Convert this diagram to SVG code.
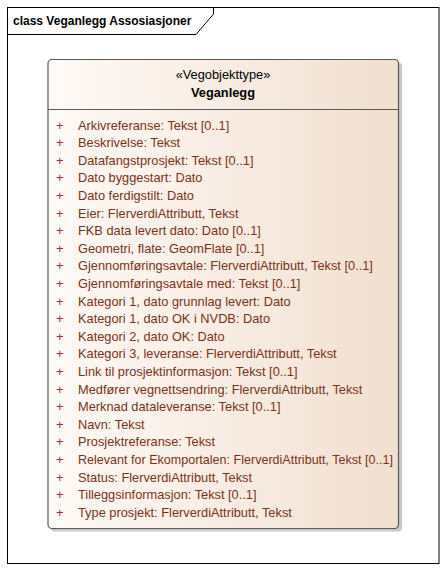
<svg xmlns="http://www.w3.org/2000/svg" width="448" height="573" viewBox="0 0 448 573">
<style>
  .t{font-family:"Liberation Sans",Arial,sans-serif;font-size:12px}
  .b{font-size:12.8px}
  .a{fill:#7a3218}
  .p{fill:#a8282b}
</style>
<defs>
  <linearGradient id="g" x1="0" y1="0" x2="1" y2="0">
    <stop offset="0" stop-color="#fefaf7"/>
    <stop offset="1" stop-color="#f1dfcf"/>
  </linearGradient>
</defs>
<rect x="0" y="0" width="448" height="573" fill="#ffffff"/>
<g id="frame">
  <rect x="7.5" y="7.5" width="431.5" height="556" fill="none" stroke="#000" stroke-width="1"/>
  <path d="M7.5 34.5 H196 L213.5 14 V7.5" fill="none" stroke="#000" stroke-width="1"/>
  <text x="13" y="24.5" class="t" font-weight="bold" fill="#000">class Veganlegg Assosiasjoner</text>
</g>
<g id="connectors"></g>
<g id="Veganlegg">
  <rect x="51" y="62.5" width="351" height="469" rx="4" fill="#c8c8c8"/>
  <rect x="48" y="59.5" width="350.5" height="469" rx="4" fill="url(#g)" stroke="#5a5a5a" stroke-width="1.2"/>
  <line x1="48" y1="109.5" x2="398.5" y2="109.5" stroke="#5a5a5a" stroke-width="1"/>
  <text x="223" y="79" class="t b" text-anchor="middle" fill="#000">«Vegobjekttype»</text>
  <text x="223" y="97" class="t b" text-anchor="middle" font-weight="bold" fill="#000">Veganlegg</text>
  <g class="t b">
    <text class="p" x="56" y="129.5">+</text><text class="a" x="78" y="129.5">Arkivreferanse: Tekst [0..1]</text>
    <text class="p" x="56" y="147.1">+</text><text class="a" x="78" y="147.1">Beskrivelse: Tekst</text>
    <text class="p" x="56" y="164.7">+</text><text class="a" x="78" y="164.7">Datafangstprosjekt: Tekst [0..1]</text>
    <text class="p" x="56" y="182.3">+</text><text class="a" x="78" y="182.3">Dato byggestart: Dato</text>
    <text class="p" x="56" y="199.9">+</text><text class="a" x="78" y="199.9">Dato ferdigstilt: Dato</text>
    <text class="p" x="56" y="217.5">+</text><text class="a" x="78" y="217.5">Eier: FlerverdiAttributt, Tekst</text>
    <text class="p" x="56" y="235.1">+</text><text class="a" x="78" y="235.1">FKB data levert dato: Dato [0..1]</text>
    <text class="p" x="56" y="252.7">+</text><text class="a" x="78" y="252.7">Geometri, flate: GeomFlate [0..1]</text>
    <text class="p" x="56" y="270.3">+</text><text class="a" x="78" y="270.3">Gjennomføringsavtale: FlerverdiAttributt, Tekst [0..1]</text>
    <text class="p" x="56" y="287.9">+</text><text class="a" x="78" y="287.9">Gjennomføringsavtale med: Tekst [0..1]</text>
    <text class="p" x="56" y="305.5">+</text><text class="a" x="78" y="305.5">Kategori 1, dato grunnlag levert: Dato</text>
    <text class="p" x="56" y="323.1">+</text><text class="a" x="78" y="323.1">Kategori 1, dato OK i NVDB: Dato</text>
    <text class="p" x="56" y="340.7">+</text><text class="a" x="78" y="340.7">Kategori 2, dato OK: Dato</text>
    <text class="p" x="56" y="358.3">+</text><text class="a" x="78" y="358.3">Kategori 3, leveranse: FlerverdiAttributt, Tekst</text>
    <text class="p" x="56" y="375.9">+</text><text class="a" x="78" y="375.9">Link til prosjektinformasjon: Tekst [0..1]</text>
    <text class="p" x="56" y="393.5">+</text><text class="a" x="78" y="393.5">Medfører vegnettsendring: FlerverdiAttributt, Tekst</text>
    <text class="p" x="56" y="411.1">+</text><text class="a" x="78" y="411.1">Merknad dataleveranse: Tekst [0..1]</text>
    <text class="p" x="56" y="428.7">+</text><text class="a" x="78" y="428.7">Navn: Tekst</text>
    <text class="p" x="56" y="446.3">+</text><text class="a" x="78" y="446.3">Prosjektreferanse: Tekst</text>
    <text class="p" x="56" y="463.9">+</text><text class="a" x="78" y="463.9" textLength="315" lengthAdjust="spacingAndGlyphs">Relevant for Ekomportalen: FlerverdiAttributt, Tekst [0..1]</text>
    <text class="p" x="56" y="481.5">+</text><text class="a" x="78" y="481.5">Status: FlerverdiAttributt, Tekst</text>
    <text class="p" x="56" y="499.1">+</text><text class="a" x="78" y="499.1">Tilleggsinformasjon: Tekst [0..1]</text>
    <text class="p" x="56" y="516.7">+</text><text class="a" x="78" y="516.7">Type prosjekt: FlerverdiAttributt, Tekst</text>
  </g>
</g>
</svg>
